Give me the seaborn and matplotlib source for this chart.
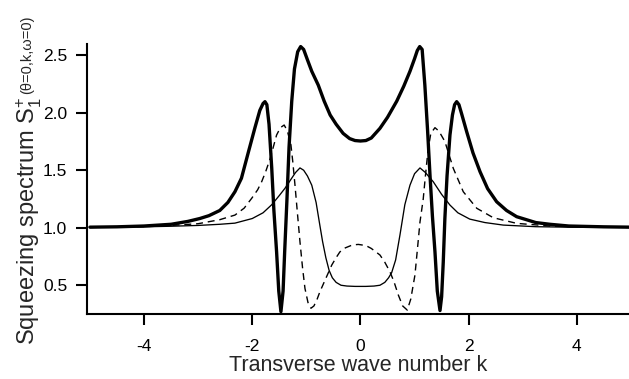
import matplotlib
matplotlib.use("Agg")
import matplotlib.pyplot as plt
import seaborn as sns

# Values
k_thick = [-5.0, -4.5, -4.0, -3.5, -3.19, -2.97, -2.8, -2.6, -2.45, -2.32, -2.2, -2.07,
           -1.95, -1.86, -1.8, -1.765, -1.73, -1.69, -1.64, -1.6, -1.55, -1.51, -1.47,
           -1.43, -1.4, -1.36, -1.32, -1.27, -1.22, -1.16, -1.105, -1.05, -0.98, -0.9,
           -0.78, -0.67, -0.56, -0.45, -0.32, -0.2, -0.1, 0.0, 0.1, 0.2, 0.36, 0.5,
           0.67, 0.8, 0.915, 1.0, 1.05, 1.095, 1.14, 1.19, 1.24, 1.285, 1.33, 1.377,
           1.42, 1.47, 1.5, 1.53, 1.56, 1.6, 1.654, 1.7, 1.74, 1.778, 1.82, 1.87,
           1.963, 2.08, 2.21, 2.35, 2.517, 2.7, 2.887, 3.24, 3.5, 3.85, 4.5, 5.0]
s_thick = [1.005, 1.008, 1.015, 1.03, 1.055, 1.08, 1.105, 1.15, 1.22, 1.313, 1.43, 1.66,
           1.87, 2.02, 2.08, 2.096, 2.07, 1.9, 1.52, 1.15, 0.79, 0.45, 0.27,
           0.45, 0.8, 1.23, 1.7, 2.1, 2.38, 2.53, 2.575, 2.55, 2.46, 2.36,
           2.24, 2.1, 1.98, 1.9, 1.82, 1.775, 1.758, 1.754, 1.758, 1.78, 1.864, 1.96,
           2.1, 2.23, 2.36, 2.47, 2.54, 2.575, 2.55, 2.24, 1.85, 1.458, 1.1, 0.79,
           0.45, 0.28, 0.4, 0.7, 1.08, 1.45, 1.806, 1.98, 2.07, 2.096, 2.07, 1.99,
           1.835, 1.65, 1.487, 1.34, 1.226, 1.15, 1.096, 1.045, 1.03, 1.015, 1.008, 1.005]

k_dashed = [-5.0, -4.5, -4.0, -3.5, -3.0, -2.6, -2.32, -2.15, -2.01, -1.9, -1.826, -1.75,
            -1.67, -1.6, -1.55, -1.48, -1.41, -1.35, -1.285, -1.25, -1.21, -1.16, -1.118,
            -1.07, -1.026, -0.97, -0.915, -0.86, -0.8, -0.75, -0.64, -0.53, -0.45, -0.38,
            -0.28, -0.15, -0.04, 0.1, 0.2, 0.36, 0.45, 0.545, 0.62, 0.7, 0.78, 0.865,
            0.93, 1.007, 1.05, 1.1, 1.16, 1.2, 1.25, 1.3, 1.377, 1.45, 1.56, 1.716, 1.9,
            2.15, 2.455, 2.887, 3.5, 4.0, 5.0]
s_dashed = [1.003, 1.006, 1.01, 1.02, 1.035, 1.07, 1.11, 1.17, 1.256, 1.33, 1.4, 1.49,
            1.6, 1.72, 1.806, 1.87, 1.893, 1.84, 1.72, 1.57, 1.37, 1.1, 0.878,
            0.65, 0.473, 0.35, 0.3, 0.32, 0.38, 0.443, 0.56, 0.676, 0.74, 0.79,
            0.825, 0.85, 0.855, 0.845, 0.82, 0.763, 0.7, 0.617, 0.53, 0.415, 0.32, 0.284,
            0.38, 0.589, 0.8, 1.05, 1.25, 1.45, 1.68, 1.82, 1.87, 1.84, 1.75, 1.516, 1.313,
            1.169, 1.087, 1.038, 1.015, 1.008, 1.003]

k_thin = [-5.0, -4.5, -4.0, -3.5, -3.0, -2.6, -2.32, -2.0, -1.8, -1.64, -1.5, -1.395,
          -1.3, -1.2, -1.118, -1.05, -0.98, -0.9, -0.82, -0.75, -0.7, -0.64, -0.58,
          -0.52, -0.45, -0.36, -0.25, -0.1, 0.0, 0.1, 0.25, 0.36, 0.45, 0.52, 0.577,
          0.65, 0.73, 0.82, 0.915, 1.0, 1.1, 1.2, 1.345, 1.5, 1.654, 1.8, 2.02, 2.3,
          2.64, 3.24, 4.0, 5.0]
s_thin = [1.003, 1.005, 1.008, 1.013, 1.02, 1.03, 1.04, 1.08, 1.13, 1.2, 1.28, 1.343,
          1.41, 1.48, 1.52, 1.5, 1.45, 1.37, 1.22, 1.02, 0.88, 0.74, 0.63,
          0.565, 0.525, 0.5, 0.493, 0.49, 0.49, 0.49, 0.493, 0.5, 0.525, 0.565, 0.61,
          0.72, 0.937, 1.2, 1.37, 1.47, 1.52, 1.48, 1.4, 1.29, 1.197, 1.13, 1.075, 1.045,
          1.023, 1.009, 1.004, 1.002]

x_ticks = [-4, -2, 0, 2, 4]
y_ticks = [0.5, 1.0, 1.5, 2.0, 2.5]

sns.set_style("ticks")
plt.rcParams['font.family'] = ['Liberation Sans', 'DejaVu Sans']
plt.rcParams['mathtext.fontset'] = 'custom'
plt.rcParams['mathtext.rm'] = 'Liberation Sans'
plt.rcParams['mathtext.it'] = 'Liberation Sans'

fig = plt.figure(figsize=(6.29, 3.79), dpi=100)
ax = fig.add_axes([0.1378, 0.1715, 0.8622, 0.7132])

sns.lineplot(x=k_thick, y=s_thick, ax=ax, color='black', linewidth=2.4, estimator=None)
sns.lineplot(x=k_dashed, y=s_dashed, ax=ax, color='black', linewidth=1.0,
             linestyle=(0, (5, 3.5)), estimator=None)
sns.lineplot(x=k_thin, y=s_thin, ax=ax, color='black', linewidth=0.95, estimator=None)

ax.set_xlim(-5.06, 4.963)
ax.set_ylim(0.25, 2.6)
ax.set_xticks(x_ticks)
ax.set_xticklabels([str(t) for t in x_ticks])
ax.set_yticks(y_ticks)
ax.set_yticklabels(['%.1f' % t for t in y_ticks])
ax.tick_params(direction='out', length=8, width=1.5, labelsize=12.5, colors='black')
ax.tick_params(axis='y', pad=6)
ax.tick_params(axis='x', pad=10)
for side in ['top', 'right']:
    ax.spines[side].set_visible(False)
for side in ['left', 'bottom']:
    ax.spines[side].set_linewidth(1.5)
    ax.spines[side].set_color('black')

ax.set_xlabel('Transverse wave number k', fontsize=15.5, labelpad=1)

# y label: main part plus smaller parenthetical
main = fig.text(36 / 629, 1 - 345 / 379, 'Squeezing spectrum S$_1^{+}$', rotation=90,
                rotation_mode='anchor', ha='left', va='baseline', fontsize=17)
fig.canvas.draw()
bb = main.get_window_extent(fig.canvas.get_renderer())
fig.text(31 / 629, (bb.y1 + 2) / fig.bbox.height, '(θ=0,k,ω=0)', rotation=90,
         rotation_mode='anchor', ha='left', va='baseline', fontsize=10.5)

fig.savefig('out.png', dpi=100)
